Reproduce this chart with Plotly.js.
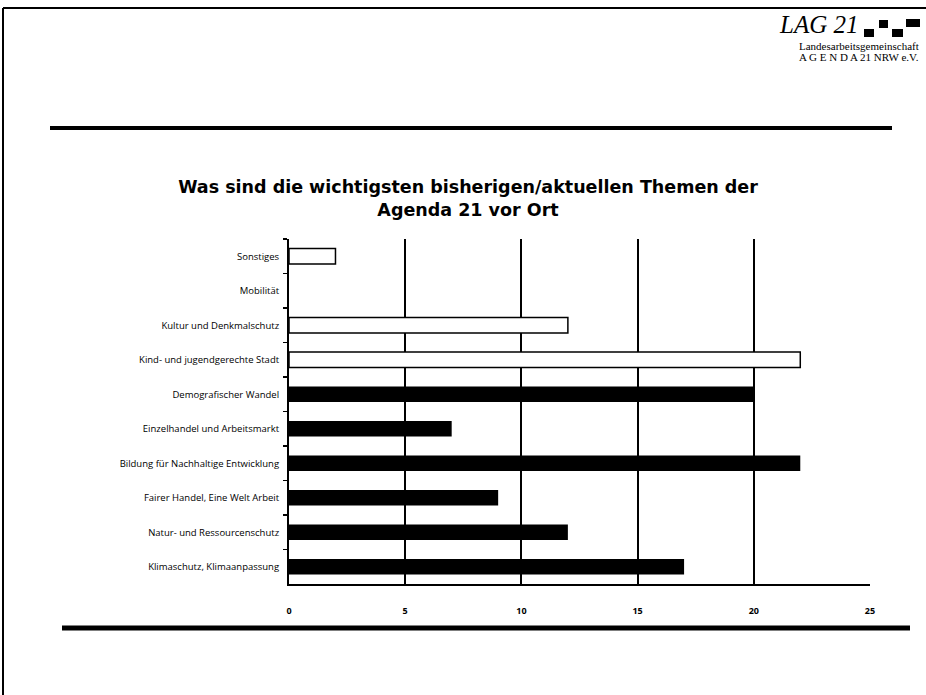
<!DOCTYPE html>
<html>
<head>
<meta charset="utf-8">
<script src="https://cdn.plot.ly/plotly-3.0.1.min.js"></script>
<style>
  html, body { margin: 0; padding: 0; background: #fff; }
  #chart { width: 926px; height: 695px; }
</style>
</head>
<body>
<div id="chart"></div>
<script>
var themen = [
  "Sonstiges",
  "Mobilität",
  "Kultur und Denkmalschutz",
  "Kind- und jugendgerechte Stadt",
  "Demografischer Wandel",
  "Einzelhandel und Arbeitsmarkt",
  "Bildung für Nachhaltige Entwicklung",
  "Fairer Handel, Eine Welt Arbeit",
  "Natur- und Ressourcenschutz",
  "Klimaschutz, Klimaanpassung"
];
var anzahl = [2, 0, 12, 22, 20, 7, 22, 9, 12, 17];
var xTicks = [0, 5, 10, 15, 20, 25];

// plot area in page pixels
var L = 289, R = 870, T = 239, B = 584;
function px(x) { return (x - L) / (R - L); }
function py(y) { return (B - y) / (B - T); }

// first four bars are drawn hollow in the scan
var fill = anzahl.map(function (v, i) { return i < 4 ? "#ffffff" : "#000000"; });
var lineW = anzahl.map(function (v, i) { return (i < 4 && v > 0) ? 1.5 : 0; });

var data = [{
  type: "bar",
  orientation: "h",
  y: themen,
  x: anzahl,
  marker: { color: fill, line: { color: "#000", width: lineW } },
  hoverinfo: "x+y"
}];

var lines = [
  // page frame
  { type: "line", xref: "paper", yref: "paper", x0: px(3), x1: px(3), y0: py(8), y1: py(695), line: { color: "#000", width: 2 } },
  { type: "line", xref: "paper", yref: "paper", x0: px(3), x1: px(926), y0: py(8), y1: py(8), line: { color: "#000", width: 2 } },
  // heavy rules
  { type: "line", xref: "paper", yref: "paper", x0: px(50), x1: px(892), y0: py(128), y1: py(128), line: { color: "#000", width: 4 } },
  { type: "line", xref: "paper", yref: "paper", x0: px(62), x1: px(910), y0: py(628), y1: py(628), line: { color: "#000", width: 5 } },
  // logo squares
  { type: "rect", xref: "paper", yref: "paper", x0: px(864), x1: px(874), y0: py(37), y1: py(29), fillcolor: "#000", line: { width: 0 } },
  { type: "rect", xref: "paper", yref: "paper", x0: px(879), x1: px(888), y0: py(28), y1: py(20), fillcolor: "#000", line: { width: 0 } },
  { type: "rect", xref: "paper", yref: "paper", x0: px(892), x1: px(903), y0: py(37), y1: py(29), fillcolor: "#000", line: { width: 0 } },
  { type: "rect", xref: "paper", yref: "paper", x0: px(906), x1: px(920), y0: py(27), y1: py(19), fillcolor: "#000", line: { width: 0 } }
];

var notes = [
  { xref: "paper", yref: "paper", x: px(860), y: py(40), xanchor: "right", yanchor: "bottom", showarrow: false,
    text: "<i>LAG 21</i>", font: { family: "Liberation Serif", size: 25, color: "#000" } },
  { xref: "paper", yref: "paper", x: px(921), y: py(46), xanchor: "right", yanchor: "middle", showarrow: false,
    text: "Landesarbeitsgemeinschaft", font: { family: "Liberation Serif", size: 11, color: "#000" } },
  { xref: "paper", yref: "paper", x: px(921), y: py(57), xanchor: "right", yanchor: "middle", showarrow: false,
    text: "A G E N D A 21 NRW e.V.", font: { family: "Liberation Serif", size: 11, color: "#000" } }
];

var layout = {
  width: 926,
  height: 695,
  margin: { l: L, r: 926 - R, t: T, b: 695 - B, pad: 0 },
  paper_bgcolor: "#fff",
  plot_bgcolor: "#fff",
  showlegend: false,
  bargap: 0.55,
  title: {
    text: "Was sind die wichtigsten bisherigen/aktuellen Themen der<br>Agenda 21 vor Ort",
    font: { family: "DejaVu Sans", size: 17.5, weight: 700, color: "#000" },
    xref: "container", yref: "container",
    x: 468 / 926, y: 1 - 193 / 695,
    xanchor: "center", yanchor: "middle"
  },
  xaxis: {
    range: [0, 25],
    tickvals: xTicks,
    ticktext: xTicks.map(String),
    showgrid: true,
    gridcolor: "#000",
    gridwidth: 2,
    zeroline: false,
    showline: true,
    linecolor: "#000",
    linewidth: 2,
    ticks: "inside",
    ticklen: 6,
    tickwidth: 1.5,
    tickcolor: "#000",
    ticklabelstandoff: 17,
    tickfont: { family: "Open Sans", size: 9, weight: 700, color: "#000" },
    fixedrange: true
  },
  yaxis: {
    type: "category",
    autorange: "reversed",
    showgrid: false,
    zeroline: false,
    showline: true,
    linecolor: "#000",
    linewidth: 2,
    ticks: "outside",
    tickson: "boundaries",
    ticklen: 4,
    tickwidth: 1.5,
    tickcolor: "#000",
    ticklabelstandoff: 6,
    tickfont: { family: "Open Sans", size: 9.5, color: "#000" },
    fixedrange: true
  },
  shapes: lines,
  annotations: notes
};

Plotly.newPlot("chart", data, layout, { displayModeBar: false, staticPlot: true });
</script>
</body>
</html>
